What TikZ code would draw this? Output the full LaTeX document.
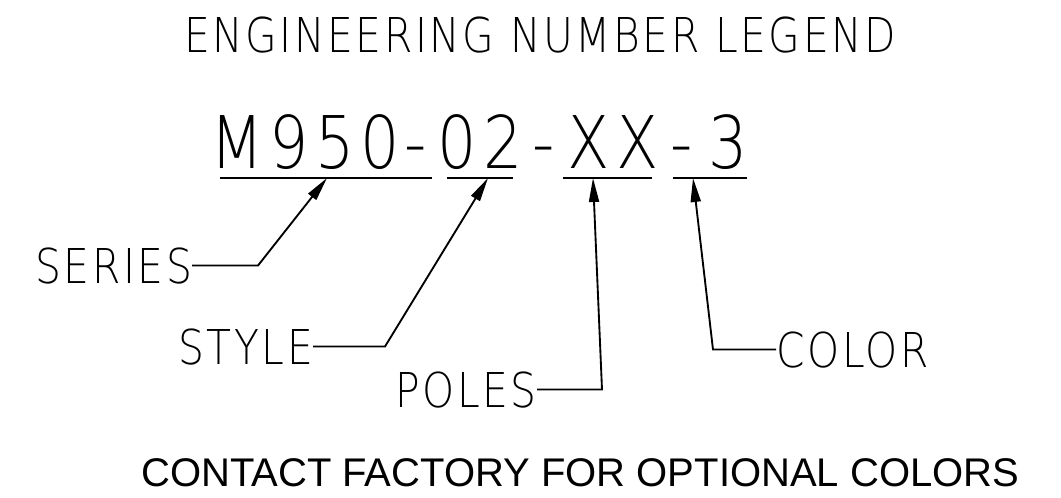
\documentclass[tikz,border=0pt]{standalone}
\usepackage{fontspec}
\IfFontExistsTF{DejaVu Sans ExtraLight}
{
\newfontfamily\cadfont{DejaVu Sans ExtraLight}[FakeStretch=0.85,LetterSpace=5.4]
\newfontfamily\cadbigfont{DejaVu Sans ExtraLight}[FakeStretch=0.85,LetterSpace=8.5]
}
{
\newfontfamily\cadfont{DejaVu Sans}[FakeStretch=0.85,LetterSpace=5.4]
\newfontfamily\cadbigfont{DejaVu Sans}[FakeStretch=0.85,LetterSpace=8.5]
}
\newfontfamily\notefont{Liberation Sans}
\usetikzlibrary{
    positioning,
    arrows.meta
}

\begin{document}
\begin{tikzpicture}
[
    x=0.75pt,
    y=-0.75pt,
    label/.style={
        inner sep=0pt,
        anchor=base west,
        font=\cadfont\fontsize{36pt}{40pt}\selectfont
    },
    code/.style={
        inner sep=0pt,
        anchor=base,
        font=\cadbigfont\fontsize{54.5pt}{60pt}\selectfont
    },
    uline/.style={
        line width=1.5pt
    },
    leader/.style={
        -{Triangle[length=18pt,width=7.5pt]},
        line width=1.4pt,
        line join=miter
    }
]

\useasboundingbox (0,0) rectangle (1061,497);


% =====================
% TITLE
% =====================

\node[
label,
anchor=base
]
at (540,52)
(title)
{ENGINEERING NUMBER LEGEND};



% =====================
% PART NUMBER
% =====================

\node[code] at (305,168) (seriescode) {M950};
\node[code] at (416,168) (dashA) {-};
\node[code] at (480,168) (stylecode) {02};
\node[code] at (544,168) (dashB) {-};
\node[code] at (613,168) (polescode) {XX};
\node[code] at (682,168) (dashC) {-};
\node[code] at (728,168) (colorcode) {3};


\draw[uline] (220,178) -- (432,178);
\draw[uline] (447,178) -- (513,178);
\draw[uline] (563,178) -- (652,178);
\draw[uline] (673,178) -- (747,178);


\coordinate (seriestip) at (327,178);
\coordinate (styletip) at (488,178);
\coordinate (polestip) at (593,178);
\coordinate (colortip) at (693,178);

\coordinate (seriesknee) at (258,0);
\coordinate (styleknee) at (385,0);
\coordinate (polesknee) at (602,0);
\coordinate (colorknee) at (713,0);



% =====================
% FIELD LABELS
% =====================

\node[label] at (35,283) (series) {SERIES};

\node[label] at (178,364) (style) {STYLE};

\node[label] at (395,407) (poles) {POLES};

\node[label] at (776,367) (color) {COLOR};



% =====================
% LEADERS
% =====================


\draw[leader]
(series.east)
--
(series.east -| seriesknee)
--
(seriestip);


\draw[leader]
(style.east)
--
(style.east -| styleknee)
--
(styletip);


\draw[leader]
(poles.east)
--
(poles.east -| polesknee)
--
(polestip);


\draw[leader]
(color.west)
--
(color.west -| colorknee)
--
(colortip);



% =====================
% NOTE
% =====================

\node[
inner sep=0pt,
anchor=base west,
font=\notefont\fontsize{30pt}{34pt}\selectfont
]
at (141,486)
(note)
{CONTACT FACTORY FOR OPTIONAL COLORS};


\end{tikzpicture}
\end{document}
